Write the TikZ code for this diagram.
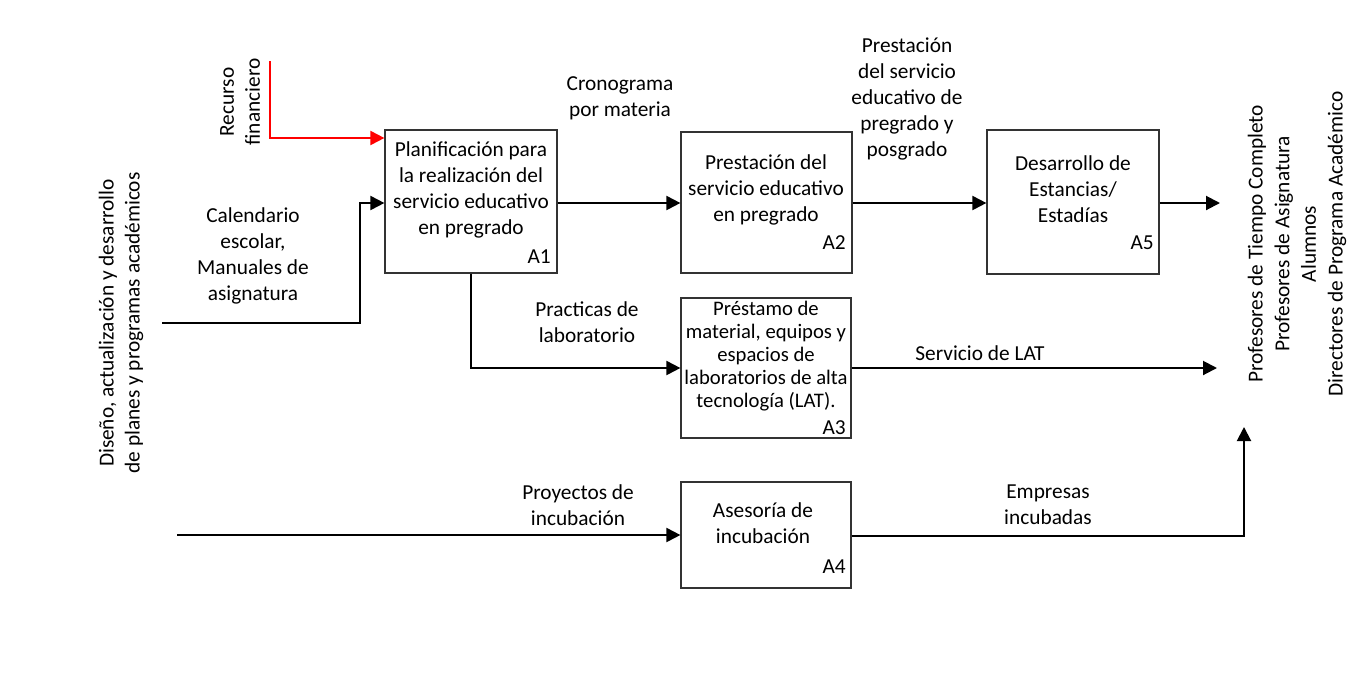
\documentclass[tikz,border=0pt]{standalone}
\usepackage{fontspec}
\setmainfont{Carlito}
\usetikzlibrary{arrows.meta,fit}
\begin{document}
\begin{tikzpicture}[x=0.75pt,y=-0.75pt,
  every node/.style={font=\fontsize{16}{19.5}\selectfont, inner sep=0pt},
  box/.style={draw=black!80, line width=0.9pt, inner sep=0pt},
  txt/.style={align=center},
  smalltxt/.style={align=center, font=\fontsize{15.5}{17.3}\selectfont},
  idlab/.style={anchor=east},
  arr/.style={line width=1.5pt, -{Triangle[length=10.5pt,width=10.5pt]}},
  redarr/.style={arr, draw=red, -{Triangle[length=10.5pt,width=10.5pt,fill=red]}}
]
\useasboundingbox[fill=white] (0,0) rectangle (1361,683);

% boxes
\node[box, fit={(385,130)(557,273)}] (A1) {};
\node[box, fit={(681,132)(852,273)}] (A2) {};
\node[box, fit={(987,130)(1159,274)}] (A5) {};
\node[box, fit={(681,298)(851,438)}] (A3) {};
\node[box, fit={(681,482)(851,588)}] (A4) {};

% box texts
\node[txt] (A1t) at (471,190) {Planificación para\\la realización del\\servicio educativo\\en pregrado};
\node[idlab] (A1id) at (551,257) {A1};
\node[txt] (A2t) at (766,190) {Prestación del\\servicio educativo\\en pregrado};
\node[idlab] (A2id) at (846,243) {A2};
\node[txt] (A5t) at (1073,189) {Desarrollo de\\Estancias/\\Estadías};
\node[idlab] (A5id) at (1154,243) {A5};
\node[smalltxt] (A3t) at (766,356) {Préstamo de\\material, equipos y\\espacios de\\laboratorios de alta\\tecnología (LAT).};
\node[idlab] (A3id) at (846,428) {A3};
\node[txt] (A4t) at (763,523) {Asesoría de\\incubación};
\node[idlab] (A4id) at (846,567) {A4};

% free ends
\coordinate (rs) at (270,61);
\coordinate (in1) at (162,323);
\coordinate (in4) at (177,535);
\coordinate (o5) at (1220,203);
\coordinate (o3) at (1217,368);
\coordinate (o4) at (1244,427);

% connectors
\draw[redarr] (rs) |- (A1.west |- 0,138);
\draw[arr] (in1) -- (360,323) |- (A1.west |- 0,203);
\draw[arr] (A1.east |- 0,203) -- (A2.west |- 0,203);
\draw[arr] (A2.east |- 0,203) -- (A5.west |- 0,203);
\draw[arr] (A5.east |- o5) -- (o5);
\draw[arr] (A1.south -| 471,0) |- (A3.west |- 0,368);
\draw[arr] (A3.east |- o3) -- (o3);
\draw[arr] (in4) -- (A4.west |- in4);
\draw[arr] (A4.east |- 0,536) -| (o4);

% labels
\node[txt, rotate=90] (lrec) at (240,102) {Recurso\\financiero};
\node[txt, rotate=90] (ldis) at (121,323) {Diseño, actualización y desarrollo\\de planes y programas académicos};
\node[txt] (lcal) at (253,256) {Calendario\\escolar,\\Manuales de\\asignatura};
\node[txt] (lcro) at (620,98) {Cronograma\\por materia};
\node[txt] (lpre) at (907,99) {Prestación\\del servicio\\educativo de\\pregrado y\\posgrado};
\node[txt] (lpra) at (587,322) {Practicas de\\laboratorio};
\node[txt] (llat) at (980,353) {Servicio de LAT};
\node[txt] (lpro) at (578,505) {Proyectos de\\incubación};
\node[txt] (lemp) at (1048,505) {Empresas\\incubadas};
\node[txt, rotate=90, font=\fontsize{16}{20}\selectfont] (lout) at (1297,244) {Profesores de Tiempo Completo\\Profesores de Asignatura\\Alumnos\\Directores de Programa Académico};
\end{tikzpicture}
\end{document}
